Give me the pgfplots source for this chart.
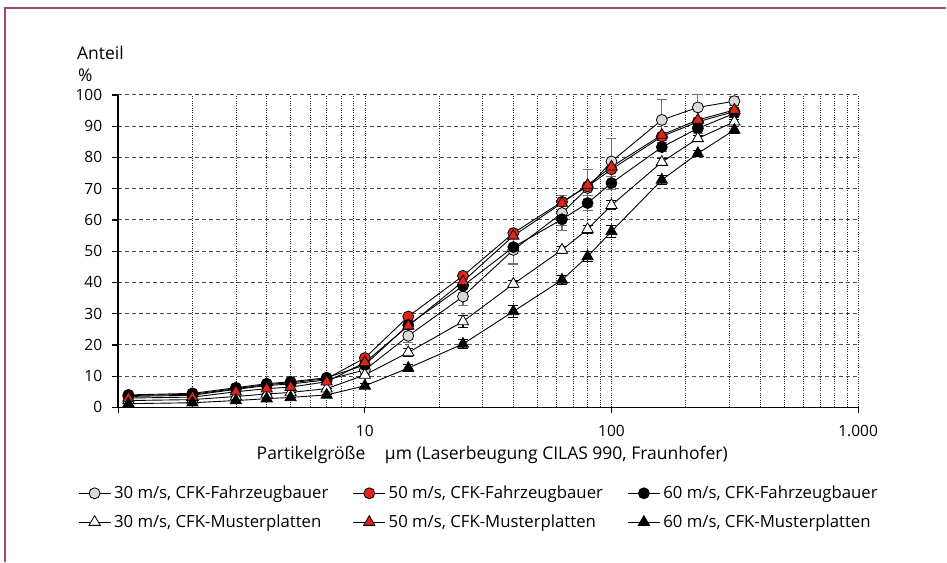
\documentclass[border=0pt]{standalone}
\usepackage{pgfplots}
\pgfplotsset{compat=1.18}
\usepackage{pgfplotstable}
\usepackage{fontspec}
\setmainfont{Open Sans}
\definecolor{framecol}{HTML}{A0466E}
\definecolor{mygrey}{HTML}{D9D9D9}
\definecolor{myred}{HTML}{E2231A}
\definecolor{errgrey}{HTML}{707070}

\pgfplotstableread{
x    A    eA   B    C    eC   D    eD   E    F    eF
1.1  3.5  0    3.8  4.0  0    2.2  0    3.0  1.2  0
2    3.9  0    4.2  4.5  0    2.5  0    3.3  1.5  0
3    5.8  0    6.0  6.3  0    3.5  0    5.0  2.2  0
4    7.0  0    7.3  7.6  0    4.3  0    6.0  2.8  0
5    7.5  0    7.9  8.2  0    4.8  0    6.5  3.2  0
7    8.8  0.5  9.2  9.5  0    6.0  0    8.2  4.0  0
10   12.0 1.5  15.8 13.6 0    10.4 0.8  14.4 6.9  0.8
15   22.9 2.0  29.1 26.4 0    17.6 1.2  26.1 12.6 1.0
25   35.5 3.0  42.1 38.9 0    27.5 1.8  40.3 20.3 1.5
40   50.4 4.5  55.8 51.3 0    39.5 1.2  54.9 30.7 1.8
63   62.2 5.5  65.8 60.2 2.0  50.4 1.0  65.4 40.8 1.5
80   70.2 6.0  70.7 65.4 2.4  57.0 1.2  71.2 48.3 1.5
100  78.7 7.5  76.2 71.8 2.0  64.7 1.5  77.0 56.3 1.8
160  92.0 6.5  86.7 83.3 1.5  78.5 1.2  87.2 72.8 1.5
224  96.0 4.0  91.4 89.3 1.5  86.1 1.0  92.0 81.3 1.0
315  98.0 1.5  94.7 94.1 1.0  91.4 0.8  95.2 88.8 1.0
}\data

\begin{document}
\fontsize{17.5}{21}\selectfont
\begin{tikzpicture}[x=1pt,y=1pt]
\path (0,0) rectangle (947,562);
\draw[framecol, line width=1.3pt] (5,0) -- (5,554) -- (947,554);
\begin{axis}[
  at={(118.3pt,154.3pt)}, anchor=south west,
  scale only axis, width=740.4pt, height=312.7pt,
  xmode=log, xmin=1, xmax=1000, ymin=0, ymax=100,
  axis x line*=bottom, axis y line*=left,
  axis line style={line width=1.7pt, black},
  tick align=outside, major tick length=6pt, minor tick length=0pt,
  tick style={line width=1.2pt, black},
  xtick={1,10,100,1000}, xticklabels={,10,100,1.000},
  minor xtick={2,3,4,5,6,7,8,9,20,30,40,50,60,70,80,90,200,300,400,500,600,700,800,900},
  ytick={0,10,...,100},
  /pgf/number format/assume math mode=true,
  tick label style={font=\fontsize{15.5}{18}\selectfont},
  xticklabel style={yshift=-6pt},
  yticklabel style={xshift=-4pt},
  xmajorgrids, xminorgrids, ymajorgrids,
  x grid style={black!85, line width=0.6pt, dash pattern=on 1pt off 1.3pt},
  minor x grid style={black!85, line width=0.6pt, dash pattern=on 1pt off 1.3pt},
  y grid style={black!70, line width=1pt, dash pattern=on 4pt off 3pt},
  clip=false,
  legend columns=3,
  legend cell align=left,
  legend style={at={(-0.0544,-0.240)}, anchor=north west, draw=none, fill=none,
    font=\fontsize{16.75}{20}\selectfont, inner sep=0pt,
    nodes={inner sep=3pt},
    /tikz/every even column/.append style={column sep=21.5pt},
    row sep=7.5pt},
  legend image code/.code={\draw[mark repeat=2,mark phase=2] plot coordinates {(0pt,0pt) (16pt,0pt) (32pt,0pt)};},
]
\addplot[black, solid, line width=0.9pt, mark=*, mark size=5.5pt, mark options={fill=mygrey, draw=black, line width=0.8pt},
  error bars/.cd, y dir=both, y explicit,
  error bar style={errgrey, line width=1.1pt},
  error mark options={rotate=90, mark size=5pt, errgrey, line width=1.1pt}]
  table[x=x, y=A, y error=eA] {\data};
\addlegendentry{30 m/s, CFK-Fahrzeugbauer}
\addplot[black, solid, line width=0.9pt, mark=*, mark size=5.5pt, mark options={fill=myred, draw=black, line width=0.8pt}]
  table[x=x, y=B] {\data};
\addlegendentry{50 m/s, CFK-Fahrzeugbauer}
\addplot[black, solid, line width=0.9pt, mark=*, mark size=5.5pt, mark options={fill=black, draw=black, line width=0.8pt},
  error bars/.cd, y dir=both, y explicit,
  error bar style={errgrey, line width=1.1pt},
  error mark options={rotate=90, mark size=5pt, errgrey, line width=1.1pt}]
  table[x=x, y=C, y error=eC] {\data};
\addlegendentry{60 m/s, CFK-Fahrzeugbauer}
\addplot[black, solid, line width=0.9pt, mark=triangle*, mark size=6.5pt, mark options={fill=white, draw=black, line width=0.8pt},
  error bars/.cd, y dir=both, y explicit,
  error bar style={black, line width=1.1pt},
  error mark options={rotate=90, mark size=5pt, black, line width=1.1pt}]
  table[x=x, y=D, y error=eD] {\data};
\addlegendentry{30 m/s, CFK-Musterplatten}
\addplot[black, solid, line width=0.9pt, mark=triangle*, mark size=6.5pt, mark options={fill=myred, draw=black, line width=0.8pt}]
  table[x=x, y=E] {\data};
\addlegendentry{50 m/s, CFK-Musterplatten}
\addplot[black, solid, line width=0.9pt, mark=triangle*, mark size=6.5pt, mark options={fill=black, draw=black, line width=0.8pt},
  error bars/.cd, y dir=both, y explicit,
  error bar style={black, line width=1.1pt},
  error mark options={rotate=90, mark size=5pt, black, line width=1.1pt}]
  table[x=x, y=F, y error=eF] {\data};
\addlegendentry{60 m/s, CFK-Musterplatten}
\end{axis}
\node[anchor=west, inner sep=0pt] at (77,509) {Anteil};
\node[anchor=west, inner sep=0pt] at (78,487) {\%};
\node[anchor=west, inner sep=0pt] at (256.7,107) {Partikelgröße};
\node[anchor=west, inner sep=0pt] at (385,107) {µm (Laserbeugung CILAS 990, Fraunhofer)};
\end{tikzpicture}
\end{document}
